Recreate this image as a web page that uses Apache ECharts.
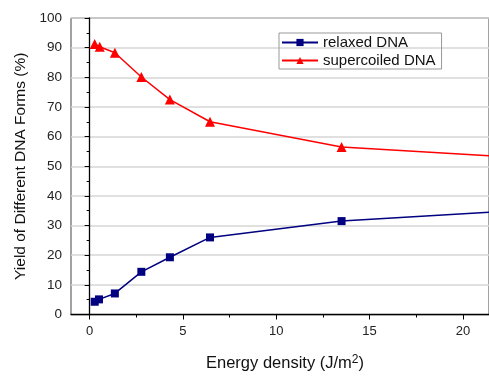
<!DOCTYPE html>
<html><head><meta charset="utf-8">
<script src="https://cdn.jsdelivr.net/npm/echarts@6/dist/echarts.min.js"></script>
<style>html,body{margin:0;padding:0;background:#fff}#c{width:489px;height:377px}</style>
</head><body><div id="c"></div>
<script>
const energyRelaxed = [0.27, 0.5, 1.35, 2.77, 4.3, 6.45, 13.5, 21.4];
const relaxed = [4.3, 5.1, 7.1, 14.4, 19.3, 26.0, 31.5, 34.5];
const energySuper = [0.27, 0.54, 1.35, 2.77, 4.3, 6.45, 13.5, 21.4];
const supercoiled = [91.2, 90.3, 88.3, 80.1, 72.5, 65.0, 56.5, 53.5];
const xTicks = [0, 5, 10, 15, 20];
const xMinorTicks = [2.5, 7.5, 12.5, 17.5];
const names = ['relaxed DNA', 'supercoiled DNA'];

const font = 'Liberation Sans, Arial, sans-serif';
function pts(xs, ys) {
  return xs.map((x, i) => {
    const p = {value: [x, ys[i]]};
    if (i === xs.length - 1) p.symbol = 'none';
    return p;
  });
}
const chart = echarts.init(document.getElementById('c'));
chart.setOption({
  animation: false,
  grid: {left: 71, top: 18, right: -2, bottom: 62, show: true, borderColor: '#444', borderWidth: 1},
  legend: {
    left: 279, top: 33, orient: 'vertical', itemWidth: 36, itemHeight: 9, itemGap: 3,
    padding: [2, 6, 1, 2], borderColor: '#999', borderWidth: 1,
    textStyle: {fontFamily: font, fontSize: 15, color: '#111'},
    data: names
  },
  xAxis: [{
    type: 'value', min: -1, max: 21.4,
    axisLine: {onZero: false, lineStyle: {color: '#000', width: 1.3}},
    axisTick: {customValues: xTicks, length: 5, lineStyle: {color: '#000'}},
    axisLabel: {customValues: xTicks, margin: 10, fontFamily: font, fontSize: 13, color: '#222'},
    splitLine: {show: false},
    name: 'Energy density (J/m{sup|2})', nameLocation: 'middle', nameGap: 39,
    nameTextStyle: {fontFamily: font, fontSize: 16.5, color: '#111', padding: [0, 0, 0, 10],
      rich: {sup: {fontSize: 12, verticalAlign: 'bottom', padding: [0, 0, 8, 0], fontFamily: font, color: '#111'}}}
  }, {
    type: 'value', min: -1, max: 21.4, position: 'bottom',
    axisLine: {show: false},
    axisTick: {customValues: xMinorTicks, length: 3, lineStyle: {color: '#000'}},
    axisLabel: {show: false}, splitLine: {show: false}
  }],
  yAxis: {
    type: 'value', min: 0, max: 100, interval: 10,
    axisLine: {show: true, lineStyle: {color: '#000', width: 1.3}},
    axisTick: {show: true, length: 5, lineStyle: {color: '#000'}},
    minorTick: {show: true, splitNumber: 2, length: 3, lineStyle: {color: '#000'}},
    axisLabel: {margin: 9, fontFamily: font, fontSize: 13.5, color: '#222'},
    splitLine: {show: true, lineStyle: {color: '#d6d6d6', width: 1.5}},
    name: 'Yield of Different DNA Forms (%)', nameLocation: 'middle', nameGap: 41,
    nameTextStyle: {fontFamily: font, fontSize: 15.5, color: '#111'}
  },
  series: [{
    name: names[0], type: 'line', data: pts(energyRelaxed, relaxed),
    symbol: 'rect', symbolSize: 8, color: '#000080',
    lineStyle: {width: 1.5, color: '#000080'}, itemStyle: {color: '#000080'}
  }, {
    name: names[1], type: 'line', data: pts(energySuper, supercoiled),
    symbol: 'triangle', symbolSize: 10, color: '#ff0000',
    lineStyle: {width: 1.5, color: '#ff0000'}, itemStyle: {color: '#ff0000'}
  }]
});
</script></body></html>
